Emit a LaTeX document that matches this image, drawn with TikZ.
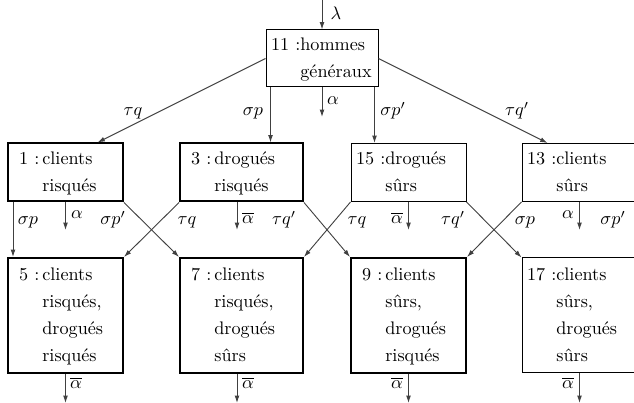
\documentclass[tikz,border=0pt]{standalone}
\usepackage{fontspec}
\usetikzlibrary{arrows.meta,calc}
\newcommand\boxtext[2]{\begin{tabular}{@{}r@{}l@{}}\makebox[14.5pt][r]{#1 :\,}&#2\end{tabular}}
\newcommand\boxtextt[2]{\begin{tabular}{@{}r@{}l@{}}\makebox[14.5pt][r]{#1 :}&#2\end{tabular}}
\begin{document}
\begin{tikzpicture}[x=0.55pt,y=-0.55pt,
  box/.style={draw, rectangle, inner xsep=4.4pt, inner ysep=0pt, align=left,
    font=\fontsize{10}{15}\selectfont, line width=0.55pt},
  thickbox/.style={box, line width=1.1pt},
  wA/.style={minimum width=63.25pt, text width=54.45pt},
  wB/.style={minimum width=67.65pt, text width=58.85pt},
  hA/.style={minimum height=31.9pt},
  hB/.style={minimum height=63.25pt},
  conn/.style={draw=black!75, line width=0.5pt, -{Latex[length=4pt,width=2.6pt]}},
  lab/.style={anchor=base, inner sep=0pt, font=\fontsize{10}{12}\selectfont}
]
\useasboundingbox (0,0) rectangle (634,403);
\clip (0,0) rectangle (634,403);

% boxes
\node[box, minimum width=61.6pt, text width=52.8pt, minimum height=31.35pt] (n11) at (322,58.5)
  {\boxtextt{11}{hommes\\&généraux}};
\node[thickbox, wA, hA] (n1) at (65.5,172.5) {\boxtext{1}{clients\\&risqués}};
\node[thickbox, wB, hA] (n3) at (241.5,172.5) {\boxtext{3}{drogués\\&risqués}};
\node[box, wA, hA] (n15) at (408.5,172.5) {\boxtextt{15}{drogués\\&sûrs}};
\node[box, wA, hA] (n13) at (579.5,172.5) {\boxtextt{13}{clients\\&sûrs}};
\node[thickbox, wA, hB] (n5) at (65.5,315.5) {\boxtext{5}{clients\\&risqués,\\&drogués\\&risqués}};
\node[thickbox, wB, hB] (n7) at (241.5,315.5) {\boxtext{7}{clients\\&risqués,\\&drogués\\&sûrs}};
\node[thickbox, wA, hB] (n9) at (408.5,315.5) {\boxtext{9}{clients\\&sûrs,\\&drogués\\&risqués}};
\node[box, wA, hB] (n17) at (579.5,315.5) {\boxtextt{17}{clients\\&sûrs,\\&drogués\\&sûrs}};

% free ends
\coordinate (in) at (322,0);
\coordinate (o11) at (322,117);
\coordinate (o1) at (65.5,230);
\coordinate (o3) at (237,230);
\coordinate (o15) at (408.5,230);
\coordinate (o13) at (579.5,230);
\coordinate (o5) at (65.5,403);
\coordinate (o7) at (237,403);
\coordinate (o9) at (408.5,403);
\coordinate (o17) at (579.5,403);

% top connectors
\draw[conn] (in) -- (n11.north);
\draw[conn] (n11.south) -- (o11);
\draw[conn] (n11.west) -- ($(n1.north)+(32,0)$);
\draw[conn] ($(n11.south west)+(5,0)$) coordinate (s3) -- (s3 |- n3.north);
\draw[conn] ($(n11.south east)+(-4,0)$) coordinate (s15) -- (s15 |- n15.north);
\draw[conn] (n11.east) -- ($(n13.north west)+(26,0)$);

% middle connectors
\draw[conn] ($(n1.south west)+(6,0)$) coordinate (s5) -- (s5 |- n5.north);
\draw[conn] (n1.south) -- (o1);
\draw[conn] (n1.south east) -- (n7.north west);
\draw[conn] (n3.south west) -- (n5.north east);
\draw[conn] (o3 |- n3.south) -- (o3);
\draw[conn] (n3.south east) -- (n9.north west);
\draw[conn] (n15.south west) -- (n7.north east);
\draw[conn] (n15.south) -- (o15);
\draw[conn] (n15.south east) -- (n17.north west);
\draw[conn] (n13.south west) -- (n9.north east);
\draw[conn] (n13.south) -- (o13);

% bottom connectors
\draw[conn] (n5.south) -- (o5);
\draw[conn] (o7 |- n7.south) -- (o7);
\draw[conn] (n9.south) -- (o9);
\draw[conn] (n17.south) -- (o17);

% labels
\node[lab] (l0) at (336,20) {$\lambda$};
\node[lab] (l1) at (333,105) {$\alpha$};
\node[lab] (l2) at (133,116) {$\tau q$};
\node[lab] (l3) at (253,116) {$\sigma p$};
\node[lab] (l4) at (393,116) {$\sigma p'$};
\node[lab] (l5) at (517,116) {$\tau q'$};
\node[lab] (l6) at (28,225) {$\sigma p$};
\node[lab] (l7) at (77,219) {$\alpha$};
\node[lab] (l8) at (113,225) {$\sigma p'$};
\node[lab] (l9) at (187,225) {$\tau q$};
\node[lab] (l10) at (248,224) {$\overline{\alpha}$};
\node[lab] (l11) at (284,225) {$\tau q'$};
\node[lab] (l12) at (357,225) {$\tau q$};
\node[lab] (l13) at (397,224) {$\overline{\alpha}$};
\node[lab] (l14) at (453,225) {$\tau q'$};
\node[lab] (l15) at (525,225) {$\sigma p$};
\node[lab] (l16) at (568,219) {$\alpha$};
\node[lab] (l17) at (613,225) {$\sigma p'$};
\node[lab] (l18) at (76,389) {$\overline{\alpha}$};
\node[lab] (l19) at (248,389) {$\overline{\alpha}$};
\node[lab] (l20) at (397,389) {$\overline{\alpha}$};
\node[lab] (l21) at (568,389) {$\overline{\alpha}$};
\end{tikzpicture}
\end{document}
